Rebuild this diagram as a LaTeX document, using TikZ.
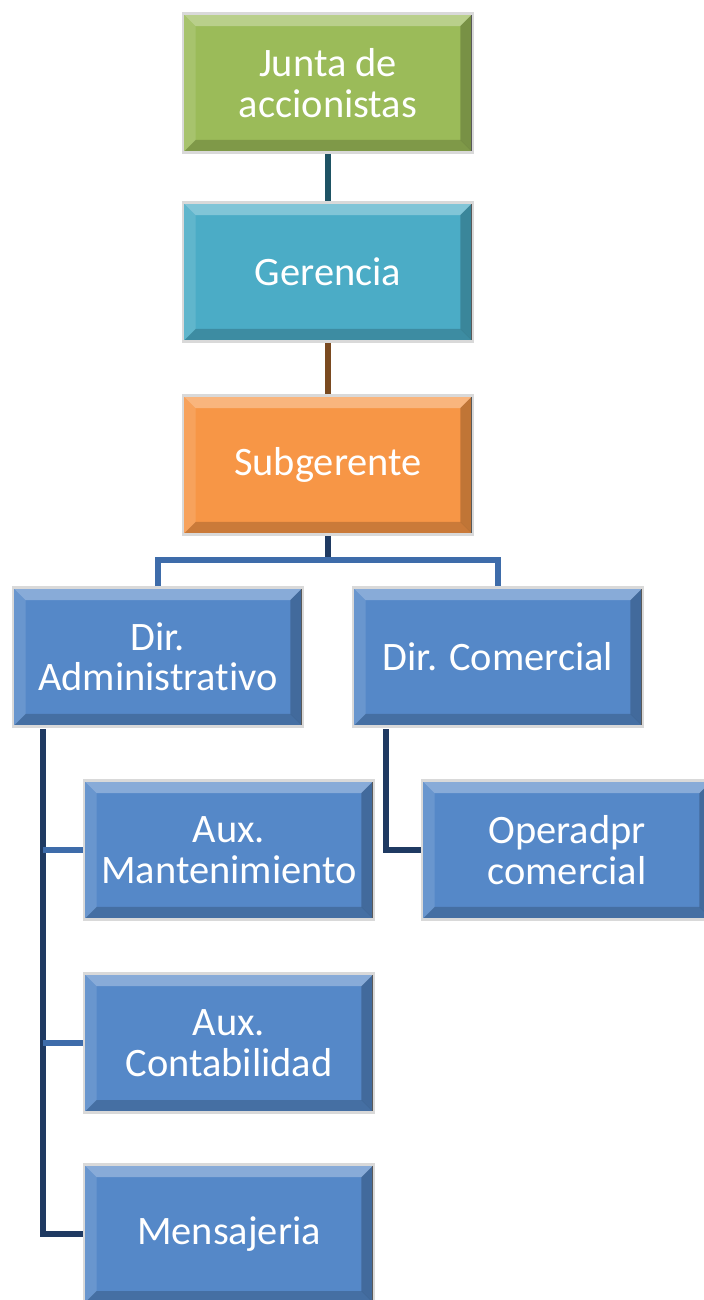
\documentclass[tikz,border=0pt]{standalone}
\usepackage{fontspec}
\setmainfont[RawFeature={-liga;-clig;-calt;-dlig}]{Carlito}
\definecolor{boxgreen}{HTML}{9BBB59}
\definecolor{boxaqua}{HTML}{4BACC6}
\definecolor{boxorange}{HTML}{F79646}
\definecolor{boxblue}{HTML}{5588C8}
\definecolor{connteal}{HTML}{1E5364}
\definecolor{connbrown}{HTML}{7A4A20}
\definecolor{connblue}{HTML}{3E6CAA}
\definecolor{connnavy}{HTML}{1F3A62}
\begin{document}
\begin{tikzpicture}[x=0.02cm, y=-0.02cm,
    orgbox/.style={rectangle, fill=#1, draw=gray!30, line width=1.6pt,
        minimum width=5.8cm, minimum height=2.78cm, inner sep=0pt,
        text=white, align=center, font=\fontsize{23}{23}\selectfont,
        path picture={
            \fill[white, opacity=0.30] (path picture bounding box.north west) -- (path picture bounding box.north east)
                -- ([shift={(-0.25cm,-0.25cm)}]path picture bounding box.north east) -- ([shift={(0.25cm,-0.25cm)}]path picture bounding box.north west) -- cycle;
            \fill[white, opacity=0.12] (path picture bounding box.north west) -- ([shift={(0.25cm,-0.25cm)}]path picture bounding box.north west)
                -- ([shift={(0.25cm,0.25cm)}]path picture bounding box.south west) -- (path picture bounding box.south west) -- cycle;
            \fill[black, opacity=0.22] (path picture bounding box.north east) -- ([shift={(-0.25cm,-0.25cm)}]path picture bounding box.north east)
                -- ([shift={(-0.25cm,0.25cm)}]path picture bounding box.south east) -- (path picture bounding box.south east) -- cycle;
            \fill[black, opacity=0.18] (path picture bounding box.south west) -- ([shift={(0.25cm,0.25cm)}]path picture bounding box.south west)
                -- ([shift={(-0.25cm,0.25cm)}]path picture bounding box.south east) -- (path picture bounding box.south east) -- cycle;
            \draw[gray!70!black, line width=2.5pt] (path picture bounding box.north east) -- (path picture bounding box.south east);
        }},
    conn/.style={line width=3.4pt}]

    \useasboundingbox (0,0) rectangle (703,1300);

    % Top levels
    \node[orgbox=boxgreen] (junta) at (328,83) {Junta de\\accionistas};
    \node[orgbox=boxaqua] (gerencia) at (328,272) {Gerencia};
    \node[orgbox=boxorange] (subgerente) at (328,465) {Subgerente};

    % Directors
    \node[orgbox=boxblue] (diradm) at (158,657) {Dir.\\Administrativo};
    \node[orgbox=boxblue] (dircom) at (498,657) {Dir. Comercial};

    % Staff
    \node[orgbox=boxblue] (auxmant) at (229,850) {Aux.\\Mantenimiento};
    \node[orgbox=boxblue] (auxcont) at (229,1043) {Aux.\\Contabilidad};
    \node[orgbox=boxblue] (mensajeria) at (229,1234) {Mensajeria};
    \node[orgbox=boxblue] (operador) at (567,850) {Operadpr\\comercial};

    % Connectors
    \coordinate (split) at (328,560);
    \coordinate (admtrunk) at (43,729);
    \coordinate (comtrunk) at (386,729);

    \draw[conn, connteal] (junta.south) -- (gerencia.north);
    \draw[conn, connbrown] (gerencia.south) -- (subgerente.north);
    \draw[conn, connnavy] (subgerente.south) -- (split);
    \draw[conn, connblue] (diradm.north) |- (split) -| (dircom.north);

    \draw[conn, connnavy] (admtrunk) |- (mensajeria.west);
    \draw[conn, connblue] (auxmant.west) -- (auxmant.west -| admtrunk);
    \draw[conn, connblue] (auxcont.west) -- (auxcont.west -| admtrunk);
    \draw[conn, connnavy] (comtrunk) |- (operador.west);

\end{tikzpicture}
\end{document}
